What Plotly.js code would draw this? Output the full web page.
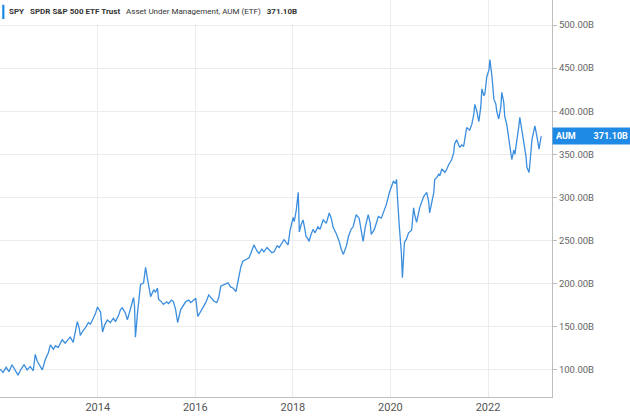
<!DOCTYPE html>
<html>
<head>
<meta charset="utf-8">
<script src="https://cdn.plot.ly/plotly-3.0.1.min.js"></script>
<style>
  html, body { margin: 0; padding: 0; background: #ffffff; }
  #grafico { width: 630px; height: 419px; }
</style>
</head>
<body>
<div id="grafico"></div>
<script>
// Datas das observações
const dates = [
    '2012-01-01', '2012-01-23', '2012-02-15', '2012-03-07', '2012-03-30', '2012-04-22', '2012-05-14', '2012-06-06', '2012-06-28', '2012-07-21', '2012-08-13', '2012-09-05', '2012-09-20', '2012-10-05', '2012-10-27', '2012-11-12', '2012-12-04', '2012-12-27',
    '2013-01-11', '2013-02-03', '2013-02-18', '2013-03-10', '2013-04-10', '2013-05-02', '2013-05-17', '2013-06-09', '2013-07-01', '2013-07-16', '2013-08-01', '2013-08-16', '2013-08-23', '2013-09-15', '2013-10-01', '2013-10-23', '2013-11-07', '2013-11-22', '2013-12-14', '2013-12-30',
    '2014-01-14', '2014-01-22', '2014-02-06', '2014-02-21', '2014-03-14', '2014-04-06', '2014-04-28', '2014-05-13', '2014-06-05', '2014-06-20', '2014-07-04', '2014-07-27', '2014-08-11', '2014-09-03', '2014-09-26', '2014-10-03', '2014-10-10', '2014-10-25', '2014-11-17', '2014-12-10', '2014-12-25',
    '2015-01-09', '2015-02-01', '2015-02-24', '2015-03-09', '2015-03-24', '2015-04-01', '2015-04-16', '2015-05-08', '2015-05-31', '2015-06-15', '2015-07-07', '2015-07-22', '2015-08-07', '2015-08-22', '2015-09-14', '2015-10-06', '2015-10-21', '2015-11-13', '2015-11-28', '2015-12-13',
    '2016-01-05', '2016-01-20', '2016-02-12', '2016-02-27', '2016-03-19', '2016-04-11', '2016-05-04', '2016-05-19', '2016-06-10', '2016-06-25', '2016-07-10', '2016-08-02', '2016-09-02', '2016-09-24', '2016-10-09', '2016-11-01', '2016-11-24', '2016-12-08', '2016-12-23',
    '2017-01-15', '2017-02-07', '2017-02-22', '2017-03-15', '2017-04-07', '2017-04-22', '2017-05-14', '2017-05-29', '2017-06-21', '2017-07-06', '2017-07-28', '2017-08-13', '2017-09-05', '2017-09-20', '2017-10-12', '2017-10-27', '2017-11-11', '2017-11-26', '2017-12-11',
    '2018-01-03', '2018-01-11', '2018-01-26', '2018-02-10', '2018-02-18', '2018-03-03', '2018-03-18', '2018-04-02', '2018-04-09', '2018-04-24', '2018-05-02', '2018-05-17', '2018-06-01', '2018-06-16', '2018-07-08', '2018-07-23', '2018-08-16', '2018-09-08', '2018-09-30', '2018-10-15', '2018-10-30', '2018-11-22', '2018-12-14', '2018-12-29',
    '2019-01-14', '2019-02-06', '2019-02-21', '2019-03-13', '2019-03-28', '2019-04-20', '2019-05-12', '2019-05-27', '2019-06-11', '2019-06-26', '2019-07-19', '2019-08-03', '2019-08-11', '2019-09-03', '2019-09-18', '2019-10-03', '2019-10-25', '2019-11-10', '2019-12-02', '2019-12-25',
    '2020-01-09', '2020-01-24', '2020-02-08', '2020-02-16', '2020-02-23', '2020-03-01', '2020-03-08', '2020-03-16', '2020-03-23', '2020-03-31', '2020-04-08', '2020-04-15', '2020-05-01', '2020-05-16', '2020-06-08', '2020-06-23', '2020-07-01', '2020-07-15', '2020-08-07', '2020-08-22', '2020-09-06', '2020-09-29', '2020-10-14', '2020-10-21', '2020-11-06', '2020-11-21', '2020-11-28', '2020-12-13', '2020-12-28',
    '2021-01-05', '2021-01-20', '2021-02-12', '2021-02-27', '2021-03-12', '2021-04-04', '2021-04-19', '2021-04-26', '2021-05-11', '2021-06-03', '2021-06-18', '2021-07-02', '2021-07-17', '2021-07-25', '2021-08-17', '2021-09-02', '2021-09-17', '2021-09-24', '2021-10-09', '2021-10-24', '2021-11-08', '2021-11-16', '2021-12-01', '2021-12-08', '2021-12-23',
    '2022-01-08', '2022-01-15', '2022-01-23', '2022-01-30', '2022-02-14', '2022-03-01', '2022-03-07', '2022-03-22', '2022-04-07', '2022-04-14', '2022-04-29', '2022-05-06', '2022-05-21', '2022-06-06', '2022-06-13', '2022-06-28', '2022-07-13', '2022-07-21', '2022-08-05', '2022-08-20', '2022-08-27', '2022-09-12', '2022-09-27', '2022-10-12', '2022-10-19', '2022-11-04', '2022-11-11', '2022-11-26', '2022-12-11', '2022-12-18',
    '2023-01-03', '2023-01-11', '2023-01-18', '2023-02-03'
];

// AUM do SPY em bilhões de dólares
const aum = [
    101, 97, 103, 98, 106, 99, 94, 101, 106, 100, 104, 99, 118, 110, 104, 100, 112, 120,
    129, 124, 128, 126, 135, 131, 134, 138, 132, 145, 156, 148, 140, 146, 149, 155, 153, 158, 165, 173,
    170, 167, 144, 152, 158, 155, 160, 156, 163, 170, 172, 166, 158, 170, 184, 175, 138, 165, 199, 201, 219,
    205, 185, 193, 190, 195, 182, 180, 176, 179, 177, 181, 179, 170, 155, 170, 175, 179, 181, 178, 180,
    183, 162, 168, 173, 178, 187, 182, 180, 178, 184, 197, 199, 201, 196, 195, 191, 210, 220, 226,
    228, 230, 236, 245, 238, 235, 240, 237, 242, 240, 236, 237, 244, 242, 247, 251, 248, 245, 262,
    277, 272, 285, 306, 260, 268, 274, 262, 255, 252, 249, 257, 263, 259, 266, 263, 274, 270, 282, 276, 265, 258, 249, 240,
    234, 244, 255, 263, 266, 280, 276, 262, 249, 265, 280, 270, 257, 263, 270, 278, 276, 282, 292, 306,
    312, 319, 316, 321, 300, 278, 266, 250, 236, 207, 225, 248, 252, 259, 262, 288, 280, 271, 288, 296, 301, 306, 295, 282, 296, 306, 321, 323, 327,
    325, 333, 329, 333, 338, 344, 352, 362, 367, 358, 361, 359, 372, 381, 378, 385, 397, 408, 400, 388, 405, 426, 418, 420, 440,
    448, 460, 452, 441, 414, 408, 400, 391, 405, 422, 410, 394, 385, 371, 360, 344, 355, 350, 365, 383, 393, 378, 365, 348, 335, 329, 340, 367, 378, 383,
    370, 360, 356, 371
];

// Marcas dos eixos
const yearTicks = ['2014-01-01', '2016-01-01', '2018-01-01', '2020-01-01', '2022-01-01'];
const aumTicks = [100, 150, 200, 250, 300, 350, 400, 450, 500];
const lastValue = 371.10;

const lineColor = '#3b8ede';
const labelBlue = '#1f8ae6';
const nb = '\u00a0';

const data = [
    {
        x: dates,
        y: aum,
        type: 'scatter',
        mode: 'lines',
        line: { color: lineColor, width: 1.3 },
        hoverinfo: 'skip'
    }
];

const layout = {
    width: 630,
    height: 419,
    margin: { l: 0, r: 78, t: 0, b: 22 },
    paper_bgcolor: '#ffffff',
    plot_bgcolor: '#ffffff',
    showlegend: false,
    font: { family: 'Roboto', color: '#555555' },
    xaxis: {
        type: 'date',
        range: ['2011-12-31', '2023-04-25'],
        tickvals: yearTicks,
        tickformat: '%Y',
        showgrid: true,
        gridcolor: '#ececec',
        showline: true,
        linecolor: '#bdbdbd',
        ticks: '',
        zeroline: false,
        tickfont: { family: 'Roboto', size: 11, color: '#555555' }
    },
    yaxis: {
        side: 'right',
        range: [68.6, 529],
        tickvals: aumTicks,
        ticktext: aumTicks.map(v => v.toFixed(2) + 'B'),
        ticks: 'outside',
        ticklen: 4,
        tickcolor: '#bdbdbd',
        showline: true,
        linecolor: '#bdbdbd',
        mirror: true,
        showgrid: true,
        gridcolor: '#ececec',
        zeroline: false,
        tickfont: { family: 'Roboto', size: 9.5, color: '#666666' }
    },
    shapes: [
        // caixa branca do cabeçalho
        { type: 'rect', xref: 'paper', yref: 'paper', x0: 0.002, x1: 0.545, y0: 0.94, y1: 1,
          fillcolor: '#ffffff', line: { width: 0 }, layer: 'above' },
        // barra azul do cabeçalho
        { type: 'rect', xref: 'paper', yref: 'paper', x0: 0.004, x1: 0.008, y0: 0.952, y1: 0.988,
          fillcolor: labelBlue, line: { width: 0 }, layer: 'above' }
    ],
    annotations: [
        {
            xref: 'paper', yref: 'paper', x: 0.013, y: 0.97,
            xanchor: 'left', yanchor: 'middle', showarrow: false,
            text: '<b>SPY</b>' + nb.repeat(3) + '<b>SPDR S&amp;P 500 ETF Trust</b>' + nb.repeat(3) +
                  'Asset Under Management, AUM (ETF)' + nb.repeat(3) + '<b>' + lastValue.toFixed(2) + 'B</b>',
            font: { family: 'Roboto', size: 8, color: '#333333' }
        },
        {
            xref: 'paper', yref: 'y', x: 1, y: lastValue,
            xanchor: 'left', yanchor: 'middle', showarrow: false,
            text: '<b>AUM' + nb.repeat(8) + lastValue.toFixed(2) + 'B</b>',
            font: { family: 'Roboto', size: 9, color: '#ffffff' },
            bgcolor: labelBlue, borderpad: 3, width: 72
        }
    ]
};

// Desenha o gráfico
Plotly.newPlot('grafico', data, layout, { displayModeBar: false, staticPlot: true });
</script>
</body>
</html>
